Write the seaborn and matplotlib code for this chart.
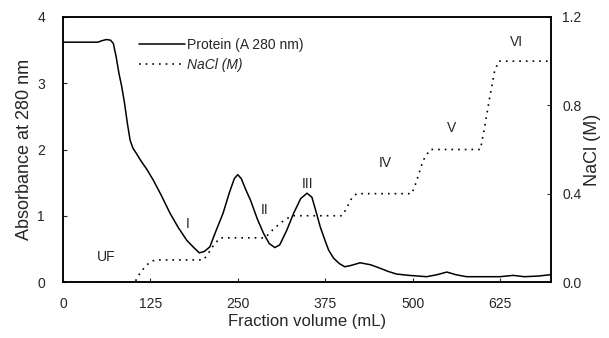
import matplotlib
matplotlib.use("Agg")
import matplotlib.pyplot as plt
import seaborn as sns
import pandas as pd
from matplotlib.lines import Line2D

# Protein absorbance (A280) profile
protein_x = [0, 50, 55, 62, 68, 72, 76, 80, 84, 88, 92, 96, 100, 105, 112, 120, 129, 140,
             153, 165, 177, 187, 195, 202, 210, 218, 229, 238, 245, 250, 255, 262, 268,
             278, 287, 295, 303, 310, 320, 330, 340, 349, 356, 362, 368, 375, 380, 387,
             395, 403, 412, 425, 440, 453, 465, 477, 495, 520, 535, 549, 562, 577, 600,
             625, 644, 660, 680, 697]
protein_y = [3.62, 3.62, 3.64, 3.66, 3.65, 3.60, 3.40, 3.15, 2.95, 2.70, 2.40, 2.14, 2.02,
             1.94, 1.82, 1.70, 1.54, 1.32, 1.04, 0.82, 0.63, 0.52, 0.44, 0.46, 0.53, 0.75,
             1.04, 1.35, 1.56, 1.62, 1.56, 1.38, 1.24, 0.95, 0.73, 0.58, 0.52, 0.56, 0.78,
             1.04, 1.26, 1.34, 1.28, 1.06, 0.83, 0.62, 0.48, 0.36, 0.28, 0.23, 0.25, 0.29,
             0.26, 0.21, 0.16, 0.12, 0.10, 0.08, 0.11, 0.15, 0.11, 0.08, 0.08, 0.08, 0.10,
             0.08, 0.09, 0.11]

# NaCl step gradient (M)
nacl_x = [0, 103, 108, 115, 124, 132, 201, 208, 216, 225, 289, 298, 312, 322, 330, 399,
          405, 413, 420, 499, 505, 515, 525, 597, 603, 610, 617, 623, 697]
nacl_y = [0, 0, 0.03, 0.06, 0.09, 0.10, 0.10, 0.13, 0.17, 0.20, 0.20, 0.23, 0.27, 0.29,
          0.30, 0.30, 0.33, 0.38, 0.40, 0.40, 0.45, 0.55, 0.60, 0.60, 0.70, 0.83, 0.95,
          1.00, 1.00]

# Fraction labels
frac_labels = ["UF", "I", "II", "III", "IV", "V", "VI"]
frac_x = [62, 178, 289, 350, 461, 556, 649]
frac_y = [0.38, 0.88, 1.08, 1.48, 1.80, 2.32, 3.62]

x_ticks = [0, 125, 250, 375, 500, 625]
left_ticks = [0, 1, 2, 3, 4]
right_ticks = [0.0, 0.4, 0.8, 1.2]

sns.set_style("ticks")
plt.rcParams['font.family'] = ['Liberation Sans', 'DejaVu Sans']

fig = plt.figure(figsize=(6.09, 3.38), dpi=100)
ax = fig.add_axes([63 / 609, 56 / 338, 488 / 609, 265 / 338])

dfp = pd.DataFrame({"x": protein_x, "y": protein_y})
dfn = pd.DataFrame({"x": nacl_x, "y": nacl_y})

sns.lineplot(data=dfp, x="x", y="y", ax=ax, color="black", linewidth=1.1, sort=False)
ax2 = ax.twinx()
sns.lineplot(data=dfn, x="x", y="y", ax=ax2, color="black", linewidth=1.2,
             linestyle=(0, (1, 3)), sort=False)

ax.set_xlim(0, 698)
ax.set_ylim(0, 4)
ax2.set_ylim(0, 1.2)
ax.set_xticks(x_ticks)
ax.set_yticks(left_ticks)
ax2.set_yticks(right_ticks)
ax2.set_yticklabels([f"{v:.1f}" for v in right_ticks])

for a in (ax, ax2):
    a.tick_params(direction="in", length=3, width=0.8, labelsize=10, pad=8)
    for s in a.spines.values():
        s.set_visible(True)
        s.set_linewidth(1.1)
        s.set_color("black")
ax.tick_params(axis="x", pad=11)
ax.tick_params(axis="y", pad=13)

ax.set_xlabel("Fraction volume (mL)", fontsize=12, labelpad=2)
ax.set_ylabel("Absorbance at 280 nm", fontsize=13, labelpad=3)
ax2.set_ylabel("NaCl (M)", fontsize=13, labelpad=2)

for t, xx, yy in zip(frac_labels, frac_x, frac_y):
    ax.text(xx, yy, t, fontsize=10, ha="center", va="center")

handles = [Line2D([], [], color="black", linewidth=1.1),
           Line2D([], [], color="black", linewidth=1.2, linestyle=(0, (1, 3)))]
leg = ax.legend(handles, ["Protein (A 280 nm)", "NaCl (M)"], loc="upper left",
                bbox_to_anchor=(0.131, 0.968), frameon=False, fontsize=10,
                handlelength=3.3, handletextpad=0.1, labelspacing=0.45)
leg.get_texts()[1].set_fontstyle("italic")

fig.savefig("out.png", dpi=100)
